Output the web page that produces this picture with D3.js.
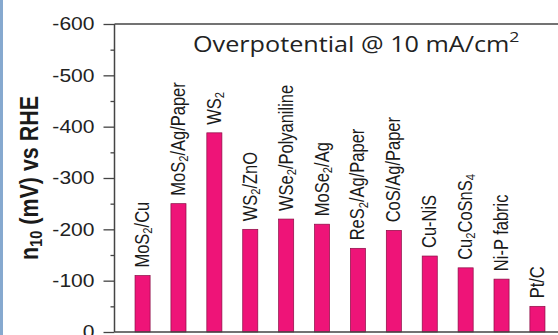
<!DOCTYPE html>
<html>
<head>
<meta charset="utf-8">
<script src="https://cdn.jsdelivr.net/npm/d3@7"></script>
<style>
  html, body { margin: 0; padding: 0; background: #fff; }
  svg { display: block; }
</style>
</head>
<body>
<svg id="chart" width="558" height="335"></svg>
<script>
// Catalysts; text inside {} is drawn as a subscript
const categories = [
  "MoS{2}/Cu", "MoS{2}/Ag/Paper", "WS{2}", "WS{2}/ZnO", "WSe{2}/Polyaniline",
  "MoSe{2}/Ag", "ReS{2}/Ag/Paper", "CoS/Ag/Paper", "Cu-NiS", "Cu{2}CoSnS{4}",
  "Ni-P fabric", "Pt/C"
];
// Overpotential at 10 mA/cm2 (mV vs RHE)
const overpotential = [-110, -250, -388, -200, -220, -210, -163, -198, -148, -125, -103, -50];
const yTicks = [0, -100, -200, -300, -400, -500, -600];
const yMinorTicks = [-50, -150, -250, -350, -450, -550];

const svg = d3.select("#chart");
const W = 558, H = 335;
const plotLeft = 114.5, plotTop = 24, plotBottom = 332;
const sx = 1.17; // horizontal stretch of glyphs

const FONT = "'Liberation Sans', Arial, Helvetica, sans-serif";
const PINK = "#ee1478";
const AXIS = "#444";

// frame strip at the left edge
svg.append("rect").attr("x", 0).attr("y", 0).attr("width", 3).attr("height", H)
  .attr("fill", "#86a9cf");

const x = d3.scaleBand()
  .domain(d3.range(categories.length))
  .range([plotLeft, 565.5])
  .paddingInner(0.58)
  .paddingOuter(0.572);

const y = d3.scaleLinear().domain([0, -600]).range([plotBottom, plotTop]);

// bars
svg.append("g").selectAll("rect")
  .data(overpotential)
  .join("rect")
  .attr("x", (d, i) => x(i))
  .attr("width", x.bandwidth())
  .attr("y", d => y(d))
  .attr("height", d => y(0) - y(d))
  .attr("fill", PINK)
  .attr("stroke", "#8a0c44")
  .attr("stroke-width", 0.7);

// axes
const yAxis = svg.append("g").attr("transform", `translate(${plotLeft},0)`)
  .call(d3.axisLeft(y).tickValues(yTicks).tickSize(11).tickPadding(0).tickFormat(() => ""));
yAxis.select(".domain").remove();
yAxis.selectAll("line").attr("stroke", AXIS).attr("stroke-width", 1.3);

const yMinor = svg.append("g").attr("transform", `translate(${plotLeft},0)`)
  .call(d3.axisLeft(y).tickValues(yMinorTicks).tickSize(4).tickFormat(() => ""));
yMinor.select(".domain").remove();
yMinor.selectAll("line").attr("stroke", AXIS).attr("stroke-width", 1.3);

svg.append("line").attr("x1", plotLeft).attr("x2", plotLeft).attr("y1", plotTop).attr("y2", plotBottom)
  .attr("stroke", AXIS).attr("stroke-width", 1.5);
svg.append("line").attr("x1", plotLeft).attr("x2", W).attr("y1", plotTop).attr("y2", plotTop)
  .attr("stroke", AXIS).attr("stroke-width", 1.5);
svg.append("line").attr("x1", plotLeft).attr("x2", W).attr("y1", plotBottom).attr("y2", plotBottom)
  .attr("stroke", AXIS).attr("stroke-width", 1.5);

// tick labels
svg.append("g").selectAll("text")
  .data(yTicks)
  .join("text")
  .attr("transform", d => `translate(94.5,${y(d)}) scale(${sx},1)`)
  .attr("text-anchor", "end")
  .attr("dy", "0.36em")
  .attr("font-family", FONT)
  .attr("font-size", 18)
  .attr("fill", "#222")
  .text(d => String(d));

// helper: write "A{2}B" as text with subscript tspans
function richText(sel, str, shift) {
  const parts = str.split(/(\{[^}]*\})/).filter(s => s.length);
  parts.forEach(p => {
    if (p.startsWith("{")) {
      sel.append("tspan").attr("baseline-shift", shift).attr("font-size", "68%").text(p.slice(1, -1));
    } else {
      sel.append("tspan").text(p);
    }
  });
}

// category labels above the bars
const labels = svg.append("g").selectAll("text")
  .data(categories)
  .join("text")
  .attr("transform", (d, i) =>
    `translate(${x(i) + x.bandwidth() / 2 - 0.5},${y(overpotential[i]) - 8}) scale(${sx},1) rotate(-90)`)
  .attr("dy", "0.36em")
  .attr("font-family", FONT)
  .attr("font-size", 16.5)
  .attr("fill", "#1a1a1a");
labels.each(function (d) { richText(d3.select(this), d, "-22%"); });

// y axis title
const yTitle = svg.append("text")
  .attr("transform", `translate(29,178) scale(${sx},1) rotate(-90)`)
  .attr("text-anchor", "middle")
  .attr("dy", "0.36em")
  .attr("font-family", FONT)
  .attr("font-weight", "bold")
  .attr("font-size", 21.5)
  .attr("fill", "#1a1a1a");
richText(yTitle, "n{10} (mV) vs RHE", "-22%");

// chart title
const title = svg.append("text")
  .attr("transform", "translate(193,52) scale(1.2,1)")
  .attr("font-family", "'Open Sans', 'Noto Sans', sans-serif")
  .attr("font-size", 21)
  .attr("fill", "#222");
title.append("tspan").text("Overpotential @ 10 mA/cm");
title.append("tspan").attr("baseline-shift", "super").attr("font-size", "70%").text("2");
</script>
</body>
</html>
